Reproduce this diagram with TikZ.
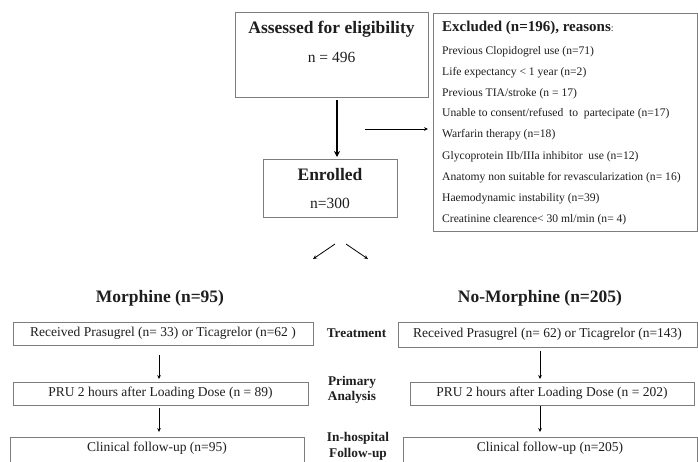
\documentclass[tikz,border=0pt]{standalone}
\usepackage{fontspec}
\setmainfont{Liberation Serif}
\usetikzlibrary{arrows.meta}
\definecolor{boxgray}{RGB}{125,125,125}
\definecolor{inkc}{RGB}{30,30,30}
\newcommand\ftitle{\fontsize{17.5}{20}\selectfont\bfseries}
\newcommand\fnum{\fontsize{15.5}{18}\selectfont}
\newcommand\fbody{\fontsize{13.5}{16}\selectfont}
\newcommand\flist{\fontsize{11.6}{14}\selectfont}
\newcommand\flab{\fontsize{13.3}{15}\selectfont\bfseries}
\tikzset{
  box/.style={draw=boxgray, line width=0.9pt, inner sep=0pt, fill=white},
  txt/.style={text=inkc, inner sep=0pt},
  arr/.style={draw=black, line width=0.6pt, -{Stealth[length=4pt,width=3.6pt]}},
  mainarr/.style={draw=black, line width=1.2pt, -{Stealth[length=6pt,width=6pt]}},
}
\begin{document}
\begin{tikzpicture}[x=1pt,y=-1pt]
\begin{scope}
\clip (0,0) rectangle (698,461);
\fill[white] (0,0) rectangle (698,461);
% top boxes
\node[box, minimum width=193pt, minimum height=85pt] (assess) at (331.5,54.5) {};
\node[txt, font=\ftitle] (assessT) at (331.5,29) {Assessed for eligibility};
\node[txt, font=\fnum] (assessN) at (331.5,57) {n = 496};
\node[box, minimum width=134pt, minimum height=58pt] (enr) at (330,188) {};
\node[txt, font=\ftitle] (enrT) at (330,175) {Enrolled};
\node[txt, font=\fnum] (enrN) at (330,203) {n=300};
\coordinate (m1) at (337,100);
\coordinate (m2) at (337,157);
\draw[mainarr] (m1) -- (m2);
% excluded
\node[box, minimum width=264pt, minimum height=218pt] (exc) at (565,122) {};
\coordinate (h1) at (365,129);
\coordinate (h2) at (428,129);
\draw[arr] (h1) -- (h2);
\node[txt, anchor=west] (excT) at (442,28) {{\fontsize{15}{18}\selectfont\bfseries Excluded (n=196), reasons}{\fontsize{10}{12}\selectfont :}};
\node[txt, anchor=west, font=\flist] (e1) at (442,52) {Previous Clopidogrel use (n=71)};
\node[txt, anchor=west, font=\flist] (e2) at (442,73) {Life expectancy < 1 year (n=2)};
\node[txt, anchor=west, font=\flist] (e3) at (442,93.5) {Previous TIA/stroke (n = 17)};
\node[txt, anchor=west, font=\flist] (e4) at (442,114) {Unable to consent/refused\ \ to\ \ partecipate (n=17)};
\node[txt, anchor=west, font=\flist] (e5) at (442,135) {Warfarin therapy (n=18)};
\node[txt, anchor=west, font=\flist] (e6) at (442,156.5) {Glycoprotein IIb/IIIa inhibitor\ \ use (n=12)};
\node[txt, anchor=west, font=\flist] (e7) at (442,177.5) {Anatomy non suitable for revascularization (n= 16)};
\node[txt, anchor=west, font=\flist] (e8) at (442,198.5) {Haemodynamic instability (n=39)};
\node[txt, anchor=west, font=\flist] (e9) at (442,219.5) {Creatinine clearence< 30 ml/min (n= 4)};
% branch arrows
\coordinate (b0l) at (335,244);
\coordinate (b1l) at (313,259);
\coordinate (b0r) at (346,244);
\coordinate (b1r) at (368,259);
\draw[arr, line width=0.8pt] (b0l) -- (b1l);
\draw[arr, line width=0.8pt] (b0r) -- (b1r);
% group titles
\node[txt, font=\ftitle] (morT) at (160,298) {Morphine (n=95)};
\node[txt, font=\ftitle] (nomT) at (540,298) {No-Morphine (n=205)};
% left column
\node[box, minimum width=300pt, minimum height=23pt, font=\fbody, text=inkc] (lt) at (163,333.5) {Received Prasugrel (n= 33) or Ticagrelor (n=62 )};
\node[box, minimum width=295pt, minimum height=23pt, font=\fbody, text=inkc] (lp) at (160.5,393.5) {PRU 2 hours after Loading Dose (n = 89)};
\node[box, minimum width=294pt, minimum height=46pt] (lc) at (157,460) {};
\node[txt, font=\fbody] (lcT) at (157,448.5) {Clinical follow-up (n=95)};
\coordinate (la1) at (159,355);
\coordinate (la2) at (159,379);
\coordinate (la3) at (159,408);
\coordinate (la4) at (159,432);
\draw[arr] (la1) -- (la2);
\draw[arr] (la3) -- (la4);
% right column
\node[box, minimum width=299pt, minimum height=25pt, font=\fbody, text=inkc] (rt) at (547.5,334.5) {Received Prasugrel (n= 62) or Ticagrelor (n=143)};
\node[box, minimum width=284pt, minimum height=23pt, font=\fbody, text=inkc] (rp) at (552,393.5) {PRU 2 hours after Loading Dose (n = 202)};
\node[box, minimum width=294pt, minimum height=46pt] (rc) at (550,460) {};
\node[txt, font=\fbody] (rcT) at (550,448.5) {Clinical follow-up (n=205)};
\coordinate (ra1) at (540,351);
\coordinate (ra2) at (540,379);
\coordinate (ra3) at (540,406);
\coordinate (ra4) at (540,432);
\draw[arr] (ra1) -- (ra2);
\draw[arr] (ra3) -- (ra4);
% middle labels
\node[txt, font=\flab] (lbT) at (356.5,333.5) {Treatment};
\node[txt, font=\flab] (lbP1) at (352,382) {Primary};
\node[txt, font=\flab] (lbP2) at (352,397) {Analysis};
\node[txt, font=\flab] (lbF1) at (358,438) {In-hospital};
\node[txt, font=\flab] (lbF2) at (358,454) {Follow-up};
\end{scope}
\pgfresetboundingbox
\useasboundingbox (0,0) rectangle (698,461);
\end{tikzpicture}
\end{document}
